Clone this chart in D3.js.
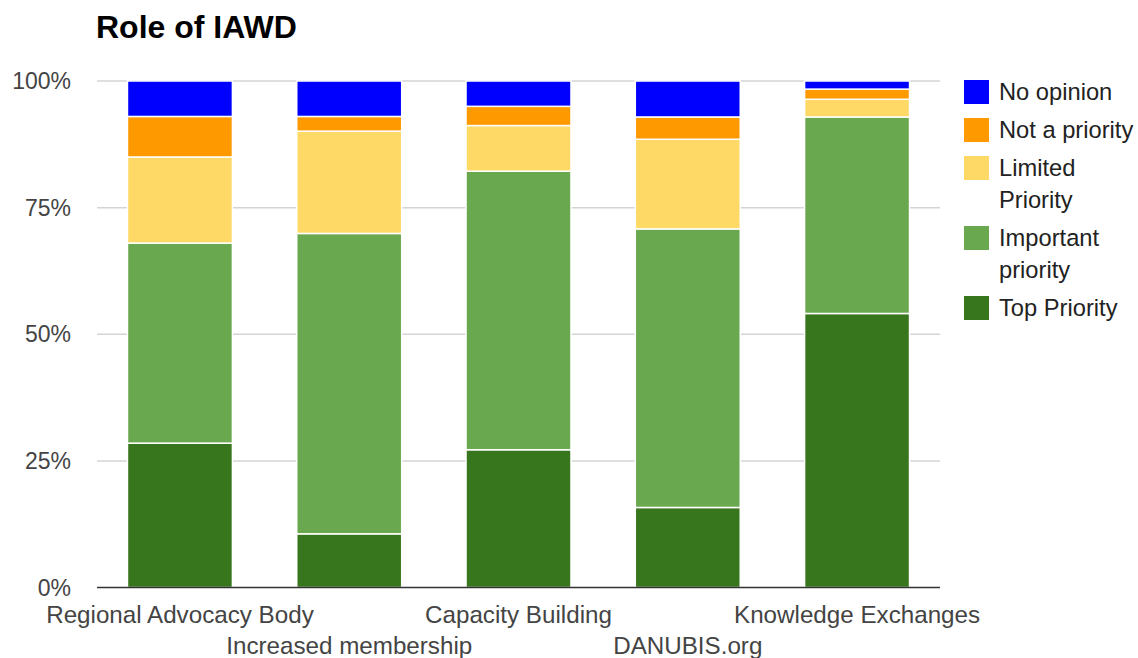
<!DOCTYPE html>
<meta charset="utf-8">
<style>
body { margin: 0; background: #fff; }
text { font-family: Arial, "Liberation Sans", sans-serif; }
.grid line { stroke: #d4d4d4; stroke-width: 1.5px; }
.axis-label { fill: #444; font-size: 23px; }
.x-label { fill: #444; font-size: 24.2px; }
.legend-label { fill: #222; font-size: 23.7px; }
</style>
<svg width="1138" height="658"></svg>
<script src="https://cdn.jsdelivr.net/npm/d3@7/dist/d3.min.js"></script>
<script>

var categories = ["Regional Advocacy Body", "Increased membership", "Capacity Building", "DANUBIS.org", "Knowledge Exchanges"];

// series, bottom to top (percent of answers)
var seriesNames = ["Top Priority", "Important priority", "Limited Priority", "Not a priority", "No opinion"];
var topPriority       = [28.5, 10.6, 27.2, 15.8, 54.1];
var importantPriority = [39.5, 59.3, 55.0, 55.0, 38.8];
var limitedPriority   = [17.0, 20.2,  9.0, 17.7,  3.5];
var notAPriority      = [ 8.0,  2.9,  3.8,  4.4,  2.0];
var noOpinion         = [ 7.0,  7.0,  5.0,  7.1,  1.6];
var seriesColors = ["#38761d", "#6aa84f", "#ffd966", "#ff9900", "#0000ff"];

var yTicks = [0, 25, 50, 75, 100];

var svg = d3.select("svg"),
    margin = {top: 81, right: 198, bottom: 70.5, left: 97},
    width = 1138 - margin.left - margin.right,
    height = 658 - margin.top - margin.bottom;

svg.append("text")
    .attr("x", 96)
    .attr("y", 38)
    .style("font-size", "32px")
    .style("font-weight", "bold")
    .style("fill", "#000")
    .text("Role of IAWD");

var g = svg.append("g").attr("transform", "translate(" + margin.left + "," + margin.top + ")");

var x = d3.scaleBand().domain(categories).range([0, width]).paddingInner(0.38).paddingOuter(0.18);
var y = d3.scaleLinear().domain([0, 100]).range([height, 0]);

var table = categories.map(function(c, i) {
  return {
    cat: c,
    "Top Priority": topPriority[i],
    "Important priority": importantPriority[i],
    "Limited Priority": limitedPriority[i],
    "Not a priority": notAPriority[i],
    "No opinion": noOpinion[i]
  };
});

var stack = d3.stack().keys(seriesNames).offset(d3.stackOffsetExpand);
var layers = stack(table);

// gridlines
g.append("g")
    .attr("class", "grid")
    .selectAll("line")
    .data(yTicks.slice(1))
    .enter().append("line")
      .attr("x1", 0)
      .attr("x2", width)
      .attr("y1", function(d) { return y(d); })
      .attr("y2", function(d) { return y(d); });

g.selectAll(".ytick")
    .data(yTicks)
    .enter().append("text")
      .attr("class", "axis-label")
      .attr("x", -26)
      .attr("y", function(d) { return y(d); })
      .attr("dy", "0.35em")
      .attr("text-anchor", "end")
      .text(function(d) { return d + "%"; });

var layer = g.selectAll(".layer")
    .data(layers)
    .enter().append("g")
      .attr("class", "layer")
      .style("fill", function(d, i) { return seriesColors[i]; });

layer.selectAll("rect")
    .data(function(d) { return d; })
    .enter().append("rect")
      .attr("x", function(d) { return x(d.data.cat); })
      .attr("width", x.bandwidth())
      .attr("y", function(d) { return y(d[1] * 100); })
      .attr("height", function(d) { return y(d[0] * 100) - y(d[1] * 100); })
      .style("stroke", "#fff")
      .style("stroke-width", 1.5);

// baseline
g.append("line")
    .attr("x1", 0)
    .attr("x2", width)
    .attr("y1", height)
    .attr("y2", height)
    .style("stroke", "#333")
    .style("stroke-width", 1.5);

// category labels, staggered on two rows
g.selectAll(".xlabel")
    .data(categories)
    .enter().append("text")
      .attr("class", "x-label")
      .attr("text-anchor", "middle")
      .attr("x", function(d) { return x(d) + x.bandwidth() / 2; })
      .attr("y", function(d, i) { return height + (i % 2 === 0 ? 35 : 66); })
      .text(function(d) { return d; });

// legend
var legendLines = [["No opinion"], ["Not a priority"], ["Limited", "Priority"], ["Important", "priority"], ["Top Priority"]];
var legendColors = seriesColors.slice().reverse();
var ly = 80;
var legend = svg.append("g");
legendLines.forEach(function(lines, i) {
  legend.append("rect")
      .attr("x", 964)
      .attr("y", ly)
      .attr("width", 25)
      .attr("height", 24)
      .style("fill", legendColors[i]);
  lines.forEach(function(t, j) {
    legend.append("text")
        .attr("class", "legend-label")
        .attr("x", 999)
        .attr("y", ly + 12 + j * 32)
        .attr("dy", "0.35em")
        .text(t);
  });
  ly += 38 + (lines.length - 1) * 32;
});

</script>
